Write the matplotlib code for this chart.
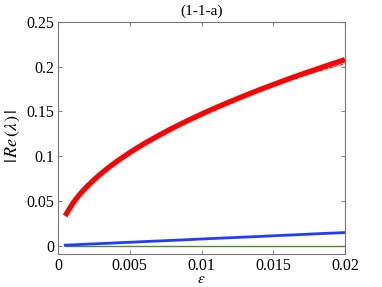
import matplotlib
matplotlib.use("Agg")
import matplotlib.pyplot as plt

plt.rcParams['font.family'] = ['Liberation Serif', 'DejaVu Serif']
plt.rcParams['mathtext.fontset'] = 'stix'

# values
eps = [0.0005, 0.00075, 0.001, 0.00125, 0.0015, 0.00175, 0.002, 0.0025, 0.003, 0.0035,
       0.004, 0.0045, 0.005, 0.006, 0.007, 0.008, 0.009, 0.01, 0.011, 0.012,
       0.013, 0.014, 0.015, 0.016, 0.017, 0.018, 0.019, 0.02]
red = [0.033, 0.040, 0.0465, 0.052, 0.057, 0.0615, 0.0657, 0.0735, 0.0805, 0.087,
       0.093, 0.0986, 0.104, 0.114, 0.123, 0.1315, 0.1395, 0.147, 0.1542, 0.161,
       0.1676, 0.174, 0.180, 0.186, 0.1917, 0.1972, 0.2027, 0.208]
red_dash = [0.033, 0.040, 0.0465, 0.052, 0.057, 0.0615, 0.0657, 0.0735, 0.0805, 0.087,
            0.093, 0.0986, 0.104, 0.114, 0.123, 0.1315, 0.1395, 0.147, 0.154, 0.1605,
            0.1667, 0.1727, 0.1785, 0.184, 0.1893, 0.1943, 0.1990, 0.2035]
blue = [0.0004, 0.0006, 0.0007, 0.0009, 0.0011, 0.0013, 0.0015, 0.0018, 0.0022, 0.0025,
        0.0029, 0.0033, 0.0036, 0.0044, 0.0051, 0.0058, 0.0065, 0.0073, 0.0080, 0.0087,
        0.0094, 0.0101, 0.0109, 0.0116, 0.0123, 0.0131, 0.0138, 0.0145]
green = [0.0] * len(eps)

xticks = [0, 0.005, 0.01, 0.015, 0.02]
xticklabels = ['0', '0.005', '0.01', '0.015', '0.02']
yticks = [0, 0.05, 0.1, 0.15, 0.2, 0.25]
yticklabels = ['0', '0.05', '0.1', '0.15', '0.2', '0.25']

fig = plt.figure(figsize=(3.82, 2.87), dpi=100)
ax = fig.add_axes([0.152, 0.115, 0.751, 0.808])

ax.plot(eps, green, color='#4f8a2f', linewidth=1.0)
ax.plot(eps, blue, color='#1f3cff', linewidth=2.0)
ax.plot(eps, red, color='#ff0000', linewidth=3.8, solid_capstyle='butt')
ax.plot(eps, red_dash, color='#ff0000', linewidth=0.7, linestyle='--')

ax.set_xlim(0, 0.02)
ax.set_ylim(-0.0095, 0.25)
ax.set_xticks(xticks)
ax.set_xticklabels(xticklabels)
ax.set_yticks(yticks)
ax.set_yticklabels(yticklabels)
ax.tick_params(direction='in', top=True, right=True, labelsize=11.5, length=3,
               color='#888888', width=0.8, pad=3)
for s in ax.spines.values():
    s.set_color('#777777')
    s.set_linewidth(0.8)

ax.set_xlabel(r'$\epsilon$', fontsize=11, labelpad=-1)
ax.set_ylabel(r'$|\,Re\,(\lambda)\,|$', fontsize=13)
ax.yaxis.set_label_coords(-0.125, 0.51)
ax.set_title('(1-1-a)', fontsize=11, pad=5)

fig.savefig('out.png', dpi=100)
